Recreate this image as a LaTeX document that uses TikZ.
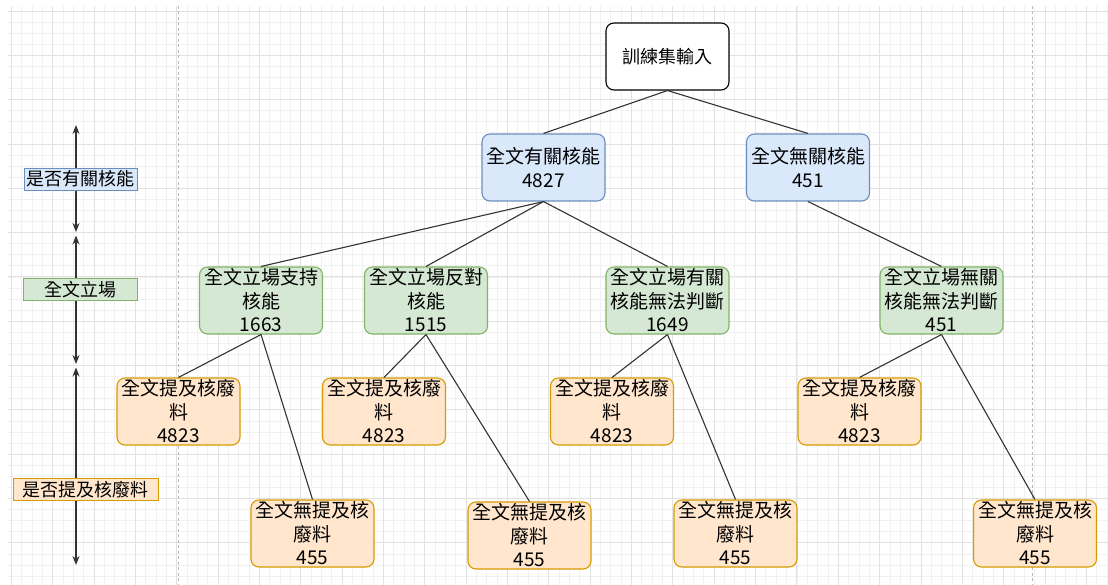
\documentclass[tikz,border=0pt]{standalone}
\usepackage{fontspec}
\setmainfont{Noto Sans CJK TC}
\newfontfamily\cjk{Noto Sans CJK TC}
\usetikzlibrary{arrows.meta}
\definecolor{bfill}{HTML}{DAE8FC}\definecolor{bline}{HTML}{6C8EBF}
\definecolor{gfill}{HTML}{D5E8D4}\definecolor{gline}{HTML}{82B366}
\definecolor{ofill}{HTML}{FFE6CC}\definecolor{oline}{HTML}{D79B00}
\definecolor{edgec}{HTML}{333333}
\definecolor{minorc}{HTML}{F1F1F1}\definecolor{majorc}{HTML}{E2E2E2}
\tikzset{
  box/.style={draw, rounded corners=8pt, line width=1.1pt, minimum width=123pt, minimum height=67pt,
    inner sep=0pt, align=center, font=\cjk\fontsize{19}{23.5}\selectfont},
  topbox/.style={box, draw=black, fill=white, font=\cjk\fontsize{18}{22}\selectfont},
  bluebox/.style={box, draw=bline, fill=bfill},
  greenbox/.style={box, draw=gline, fill=gfill},
  orangebox/.style={box, draw=oline, fill=ofill},
  lab/.style={draw, line width=0.9pt, inner sep=0pt, minimum height=22pt, font=\cjk\fontsize{18}{22}\selectfont},
  edge/.style={draw=edgec, line width=1.1pt},
  axis/.style={draw=edgec, line width=1.1pt, {Stealth[length=9pt,width=7pt]}-{Stealth[length=9pt,width=7pt]}},
  minorgrid/.style={draw=minorc, line width=0.8pt},
  majorgrid/.style={draw=majorc, line width=0.9pt},
}
\begin{document}
\begin{tikzpicture}[x=1pt,y=-1pt]
\useasboundingbox (0,0) rectangle (1108,585);
\fill[white] (0,0) rectangle (1108,585);
% grid
\foreach \k in {0,...,106} {\pgfmathsetmacro\xx{11.25+10.3375*\k}
  \draw[minorgrid] (\xx,6) -- (\xx,585);}
\foreach \k in {0,...,52} {\pgfmathsetmacro\yy{11+11.08*\k}
  \draw[minorgrid] (8,\yy) -- (1108,\yy);}
\foreach \k in {0,...,26} {\pgfmathsetmacro\xx{11.25+41.35*\k}
  \draw[majorgrid] (\xx,6) -- (\xx,585);}
\foreach \k in {0,...,13} {\pgfmathsetmacro\yy{11+44.32*\k}
  \draw[majorgrid] (8,\yy) -- (1108,\yy);}
\draw[gray!55, line width=0.9pt, dash pattern=on 3pt off 2.5pt] (178,6) -- (178,585);
\draw[gray!55, line width=0.9pt, dash pattern=on 3pt off 2.5pt] (1032,6) -- (1032,585);

% nodes
\node[topbox] (in) at (667.5,56.5) {訓練集輸入};
\node[bluebox] (rel) at (543.5,167.5) {全文有關核能\\4827};
\node[bluebox] (unrel) at (808,167.5) {全文無關核能\\451};
\node[greenbox] (g1) at (261,300.5) {全文立場支持\\核能\\1663};
\node[greenbox] (g2) at (426,300.5) {全文立場反對\\核能\\1515};
\node[greenbox] (g3) at (667.5,300.5) {全文立場有關\\核能無法判斷\\1649};
\node[greenbox] (g4) at (941.5,300.5) {全文立場無關\\核能無法判斷\\451};
\node[orangebox] (o1a) at (178.5,411.5) {全文提及核廢\\料\\4823};
\node[orangebox] (o1b) at (312.5,533.5) {全文無提及核\\廢料\\455};
\node[orangebox] (o2a) at (384,411.5) {全文提及核廢\\料\\4823};
\node[orangebox] (o2b) at (529.5,535.5) {全文無提及核\\廢料\\455};
\node[orangebox] (o3a) at (612,411.5) {全文提及核廢\\料\\4823};
\node[orangebox] (o3b) at (735.5,533.5) {全文無提及核\\廢料\\455};
\node[orangebox] (o4a) at (859.5,411.5) {全文提及核廢\\料\\4823};
\node[orangebox] (o4b) at (1035,533.5) {全文無提及核\\廢料\\455};

% edges
\draw[edge] (in.south) -- (rel.north);
\draw[edge] (in.south) -- (unrel.north);
\draw[edge] (rel.south) -- (g1.north);
\draw[edge] (rel.south) -- (g2.north);
\draw[edge] (rel.south) -- (g3.north);
\draw[edge] (unrel.south) -- (g4.north);
\foreach \g/\a/\b in {g1/o1a/o1b, g2/o2a/o2b, g3/o3a/o3b, g4/o4a/o4b} {
  \draw[edge] (\g.south) -- (\a.north);
  \draw[edge] (\g.south) -- (\b.north);
}

% left axis
\coordinate (a1t) at (76,125);
\coordinate (a1b) at (76,232);
\coordinate (a2t) at (76,235.5);
\coordinate (a2b) at (76,364);
\coordinate (a3t) at (76,367.5);
\coordinate (a3b) at (76,565);
\draw[axis] (a1t) -- (a1b);
\draw[axis] (a2t) -- (a2b);
\draw[axis] (a3t) -- (a3b);
\node[lab, draw=bline, fill=bfill, minimum width=113pt] (l1) at (80.5,179) {是否有關核能};
\node[lab, draw=gline, fill=gfill, minimum width=114pt] (l2) at (80,289.5) {全文立場};
\node[lab, draw=oline, fill=ofill, minimum width=145pt] (l3) at (85.5,489.5) {是否提及核廢料};
\end{tikzpicture}
\end{document}
